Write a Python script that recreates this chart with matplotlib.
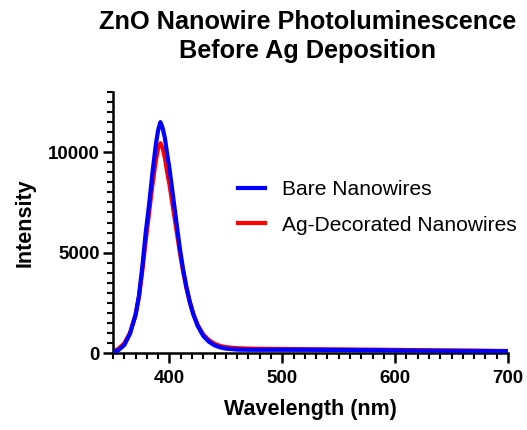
import matplotlib
matplotlib.use("Agg")
import matplotlib.pyplot as plt
from matplotlib.ticker import MultipleLocator

plt.rcParams['font.family'] = ['Liberation Sans', 'DejaVu Sans']

wavelength = [350, 355, 360, 365, 370, 373, 376, 379, 382, 385, 388, 390, 392, 394,
              396, 398, 400, 403, 406, 409, 412, 415, 418, 421, 425, 430, 435, 440,
              445, 450, 460, 470, 480, 500, 520, 550, 580, 600, 620, 650, 680, 700]
bare = [30, 150, 400, 950, 1900, 2850, 4300, 6000, 7400, 9000, 10400, 11100, 11500, 11200,
        10700, 9900, 9200, 7900, 6600, 5300, 4200, 3300, 2550, 1950, 1350, 850, 560, 380,
        280, 220, 170, 160, 160, 160, 160, 150, 140, 130, 120, 110, 100, 90]
ag = [60, 220, 480, 1000, 1900, 2800, 4100, 5600, 7000, 8400, 9600, 10200, 10450, 10200,
      9700, 9000, 8400, 7300, 6200, 5100, 4100, 3250, 2550, 1980, 1400, 920, 640, 460,
      350, 290, 240, 220, 210, 200, 190, 180, 165, 155, 140, 125, 110, 100]

fig = plt.figure(figsize=(5.27, 4.30), dpi=100)
ax = fig.add_axes([113/527, 1-353/430, (508-113)/527, (353-92)/430])

lb, = ax.plot(wavelength, bare, color='#0000ff', lw=3.0, zorder=3, label='Bare Nanowires')
lr, = ax.plot(wavelength, ag, color='#ff0000', lw=3.0, zorder=2, label='Ag-Decorated Nanowires')

ax.set_xlim(350, 700)
ax.set_ylim(0, 13000)
ax.xaxis.set_major_locator(MultipleLocator(100))
ax.xaxis.set_minor_locator(MultipleLocator(10))
ax.yaxis.set_major_locator(MultipleLocator(5000))
ax.yaxis.set_minor_locator(MultipleLocator(500))
ax.set_xticks([400, 500, 600, 700])

for s in ['top', 'right']:
    ax.spines[s].set_visible(False)
for s in ['left', 'bottom']:
    ax.spines[s].set_linewidth(1.8)

ax.tick_params(which='major', length=7.2, width=1.8, direction='out', labelsize=13.5, pad=2.5)
ax.tick_params(which='minor', length=4.3, width=1.5, direction='out')
ax.tick_params(axis='x', which='major', pad=5)
for lab in ax.get_xticklabels() + ax.get_yticklabels():
    lab.set_fontweight('bold')

ax.set_xlabel('Wavelength (nm)', fontsize=15.5, fontweight='bold', labelpad=9)
ax.set_ylabel('Intensity', fontsize=15.5, fontweight='bold', labelpad=9)
fig.text(307.5/527, 1-36.5/430, 'ZnO Nanowire Photoluminescence\nBefore Ag Deposition',
         fontsize=18.2, fontweight='bold', ha='center', va='center', linespacing=1.3)

fig.legend(handles=[lb, lr], loc='upper left', bbox_to_anchor=(219/527, 1-161/430),
           frameon=False, fontsize=15.1, handlelength=1.3, labelspacing=0.8,
           handletextpad=0.8)

fig.savefig('out.png', dpi=100)
